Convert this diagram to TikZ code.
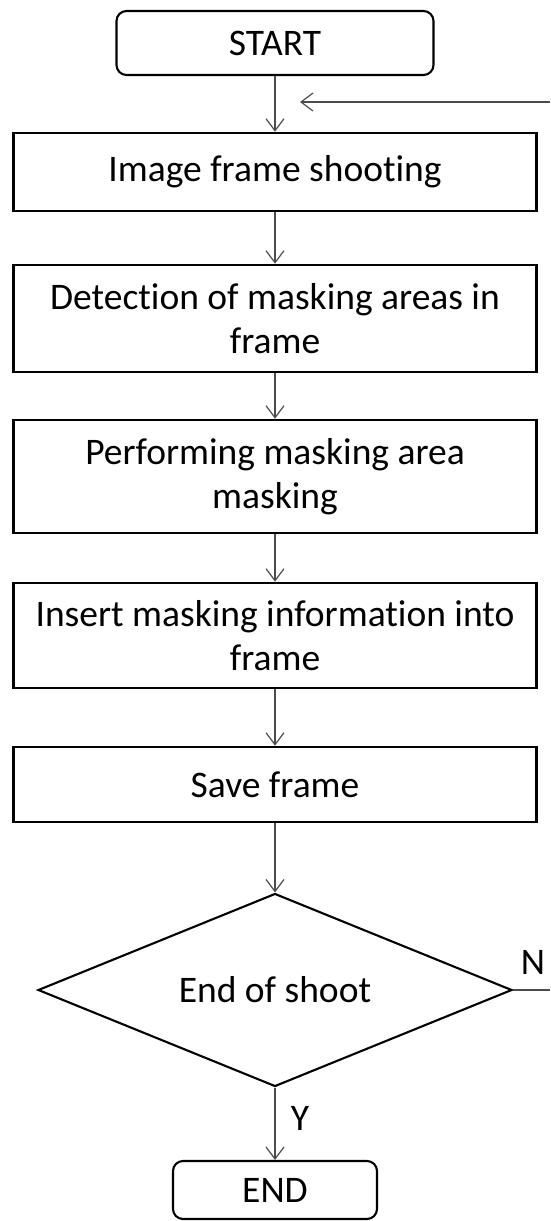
\documentclass[tikz,border=0pt]{standalone}
\usepackage{fontspec}
\setmainfont{Carlito}[Ligatures=NoCommon]
\usepackage{tikz}
\usetikzlibrary{arrows.meta,shapes.geometric}

\begin{document}
\begin{tikzpicture}[x=1pt, y=-1pt,
    every node/.style={font=\fontsize{37.5}{44}\selectfont, inner sep=0pt},
    box/.style={rectangle, draw, line width=2.6pt, minimum width=523pt, align=center},
    terminal/.style={rectangle, rounded corners=10pt, draw, line width=2.1pt},
    decision/.style={diamond, draw, line width=2.1pt, aspect=2.45, minimum width=474pt, minimum height=193pt},
    arrow/.style={-{Straight Barb[length=12pt, width=18pt]}, draw=black!70, line width=1.2pt},
    line/.style={draw=black!70, line width=1.2pt},
    tag/.style={font=\fontsize{37.5}{44}\selectfont}
]
\useasboundingbox (0,0) rectangle (550,1221);
%% ============================================================
%% main column of steps
%% ============================================================
\node[terminal, minimum width=317pt, minimum height=64pt] (start) at (275,43) {START};
\node[box, minimum height=78pt]  (shoot)  at (275,172)   {Image frame shooting};
\node[box, minimum height=107pt] (detect) at (275,318.5) {Detection of masking areas in\\frame};
\node[box, minimum height=113pt] (mask)   at (275,476.5) {Performing masking area\\masking};
\node[box, minimum height=105pt] (insert) at (275,635.5) {Insert masking information into\\frame};
\node[box, minimum height=75pt]  (save)   at (275,784.5) {Save frame};
\node[decision] (check) at (275,990) {End of shoot};
\node[terminal, minimum width=204pt, minimum height=58pt] (stop) at (275,1190) {END};
\draw[arrow] (start) -- (shoot);
\draw[arrow] (shoot) -- (detect);
\draw[arrow] (detect) -- (mask);
\draw[arrow] (mask) -- (insert);
\draw[arrow] (insert) -- (save);
\draw[arrow] (save) -- (check);
\draw[arrow] (check) -- (stop);
%% ============================================================
%% loop back (N) and branch labels
%% ============================================================
\coordinate (loopfrom) at (550,102);
\coordinate (loopto)   at (300,102);
\draw[arrow] (loopfrom) -- (loopto);
\coordinate (nexit) at (550,990);
\draw[line] (check.east) -- (nexit);
\node[tag] (no)  at (533,962)  {N};
\node[tag] (yes) at (300,1118) {Y};
\end{tikzpicture}
\end{document}
